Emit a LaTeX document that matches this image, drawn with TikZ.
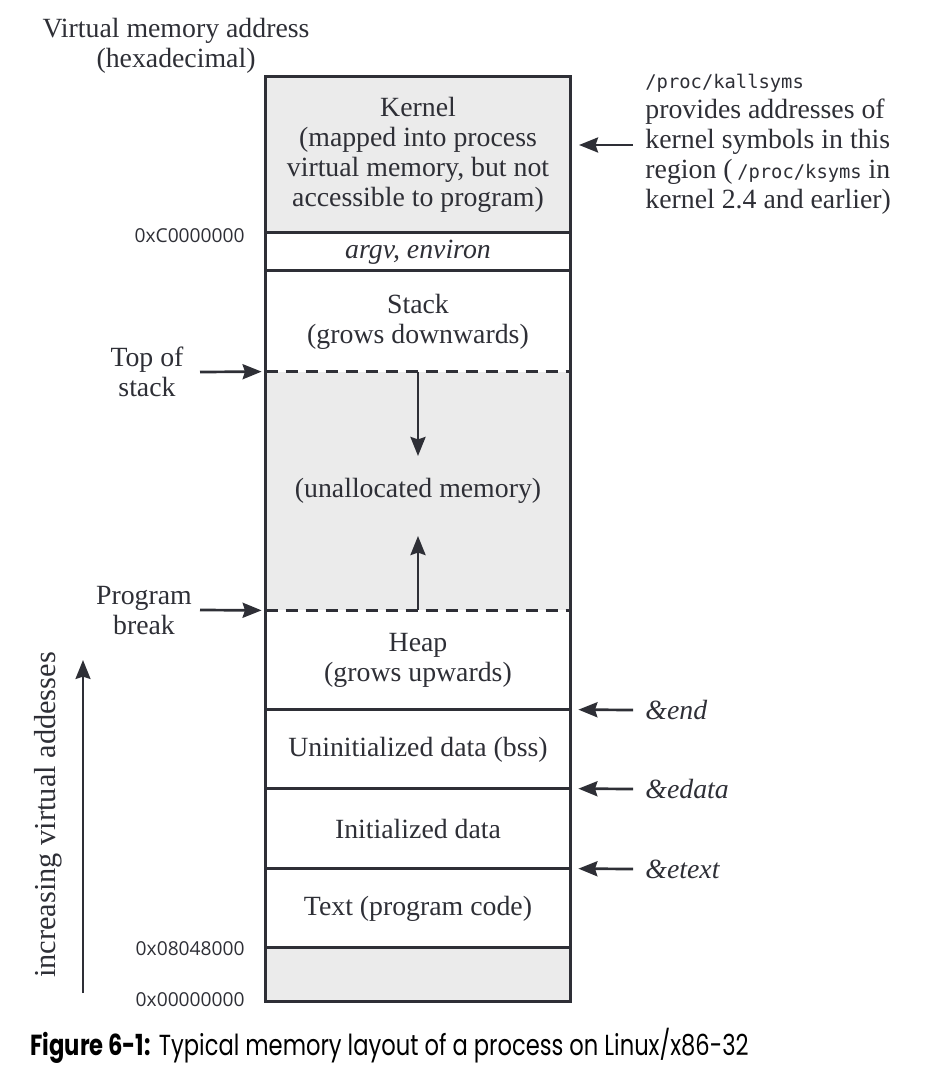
\documentclass[tikz,border=0pt]{standalone}
\usepackage{fontspec}
\usetikzlibrary{arrows.meta}
\setmainfont{Liberation Serif}
\newfontfamily\addrfont{Open Sans}
\newfontfamily\codefont{DejaVu Sans Mono}
\newfontfamily\capfont[FakeStretch=0.78]{Poppins}
\definecolor{ink}{HTML}{2E2F36}
\definecolor{mem}{HTML}{EBEBEB}
\begin{document}
\begin{tikzpicture}[x=0.5pt,y=-0.5pt,
  region/.style={minimum width=152pt, inner sep=0pt, align=center,
    font=\fontsize{13.9}{15}\selectfont, text=ink},
  lbl/.style={inner sep=0pt, align=center, font=\fontsize{13.9}{15}\selectfont, text=ink},
  addr/.style={inner sep=0pt, anchor=east, font=\addrfont\fontsize{9.6}{12}\selectfont, text=ink},
  wall/.style={draw=ink, line width=1.45pt},
  dashsep/.style={draw=ink, line width=1.3pt, dash pattern=on 6pt off 4pt},
  ptr/.style={draw=ink, line width=1.35pt, -{Stealth[length=9.5pt,width=7.5pt,inset=1.2pt]}},
]
\useasboundingbox (0,0) rectangle (933,1079);

% memory regions, top to bottom
\node[region, fill=mem, minimum height=78pt]   (kernel) at (418,155)   {Kernel\\(mapped into process\\virtual memory, but not\\accessible to program)};
\node[region, minimum height=19pt]             (argv)   at (418,252)   {\textit{argv, environ}};
\node[region, minimum height=50.5pt]           (stack)  at (418,321.5) {Stack\\(grows downwards)};
\node[region, fill=mem, minimum height=119pt]  (gap)    at (418,491)   {(unallocated memory)};
\node[region, minimum height=50pt]             (heap)   at (418,660)   {Heap\\(grows upwards)};
\node[region, minimum height=39.5pt]           (bss)    at (418,749.5) {Uninitialized data (bss)};
\node[region, minimum height=40pt]             (idata)  at (418,829)   {Initialized data};
\node[region, minimum height=39.5pt]           (text)   at (418,908.5) {Text (program code)};
\node[region, fill=mem, minimum height=26.5pt] (base)   at (418,974.5) {};

% outline and separators
\draw[wall] (kernel.north west) rectangle (base.south east);
\draw[wall] (argv.north west) -- (argv.north east);
\draw[wall] (stack.north west) -- (stack.north east);
\draw[dashsep] (gap.north west) -- (gap.north east);
\draw[dashsep] (gap.south west) -- (gap.south east);
\draw[wall] (bss.north west) -- (bss.north east);
\draw[wall] (idata.north west) -- (idata.north east);
\draw[wall] (text.north west) -- (text.north east);
\draw[wall] (base.north west) -- (base.north east);

% growth arrows in the free area
\coordinate (downtip) at (418,456);
\coordinate (uptip) at (418,536);
\draw[ptr] (gap.north) -- (downtip);
\draw[ptr] (gap.south) -- (uptip);

% heading and address labels
\node[lbl] (title) at (176,46) {Virtual memory address\\(hexadecimal)};
\node[addr] (addrC) at (245,236) {0xC0000000};
\node[addr] (addr8) at (245,949) {0x08048000};
\node[addr] (addr0) at (245,1000) {0x00000000};

% left pointers
\node[lbl] (tos) at (147,372) {Top of\\stack};
\node[lbl] (brk) at (144,611) {Program\\break};
\coordinate (tosfrom) at (200,372);
\coordinate (brkfrom) at (200,610);
\draw[ptr, shorten >=2pt] (tosfrom) -- (gap.north west);
\draw[ptr, shorten >=2pt] (brkfrom) -- (gap.south west);

% increasing addresses
\node[lbl, rotate=90, font=\fontsize{15.2}{15}\selectfont] (incr) at (48,815) {increasing virtual addesses};
\coordinate (incfrom) at (83,993);
\coordinate (incto) at (83,660);
\draw[ptr, line width=1pt] (incfrom) -- (incto);

% right pointers
\node[lbl, anchor=west, align=left] (ksyms) at (645,144)
  {{\codefont\fontsize{9.4}{15}\selectfont /proc/kallsyms}\\provides addresses of\\kernel symbols in this\\region (\,{\codefont\fontsize{9.4}{15}\selectfont /proc/ksyms} in\\kernel 2.4 and earlier)};
\coordinate (ksymfrom) at (633,145);
\coordinate (ksymtip) at (579,145);
\draw[ptr] (ksymfrom) -- (ksymtip);

\node[lbl, anchor=west] (endlbl) at (645,710) {\textit{\&end}};
\node[lbl, anchor=west] (edatalbl) at (645,789) {\textit{\&edata}};
\node[lbl, anchor=west] (etextlbl) at (645,869) {\textit{\&etext}};
\coordinate (endfrom) at (633,710);
\coordinate (edatafrom) at (633,789);
\coordinate (etextfrom) at (633,869);
\draw[ptr, shorten >=4pt] (endfrom) -- (bss.north east);
\draw[ptr, shorten >=4pt] (edatafrom) -- (idata.north east);
\draw[ptr, shorten >=4pt] (etextfrom) -- (text.north east);

% caption
\node[inner sep=0pt, anchor=west, font=\capfont\fontsize{14.5}{16}\selectfont, text=black] (cap) at (30,1046)
  {\textbf{Figure 6-1:} Typical memory layout of a process on Linux/x86-32};
\end{tikzpicture}
\end{document}
